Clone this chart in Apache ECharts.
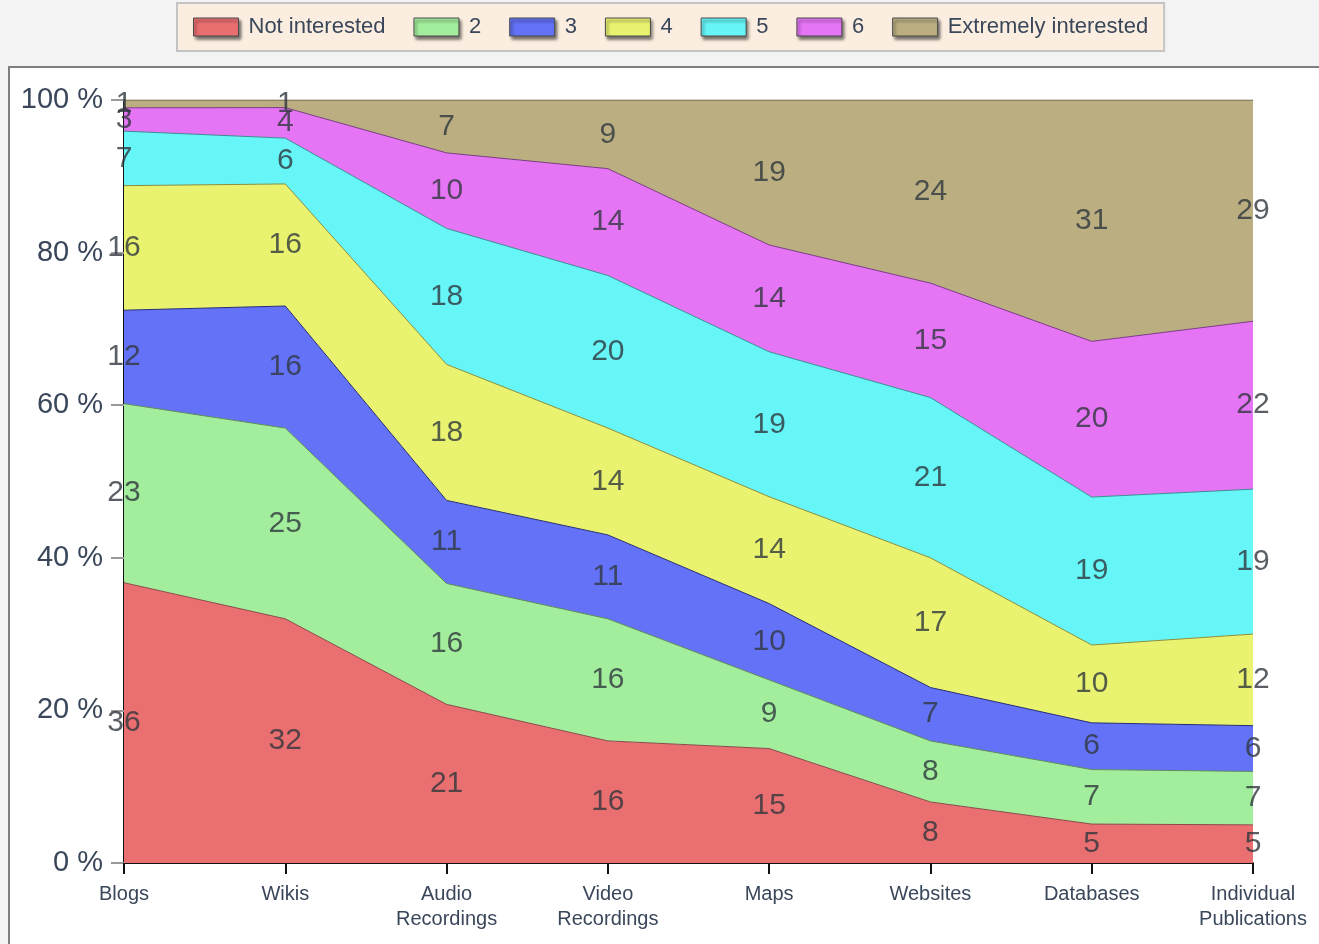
<!DOCTYPE html>
<html>
<head>
<meta charset="utf-8">
<title>Interest by resource type</title>
<script src="https://cdn.jsdelivr.net/npm/echarts@6/dist/echarts.min.js"></script>
<style>
  html, body { margin: 0; padding: 0; background: #f3f3f3; }
  #chart { width: 1319px; height: 944px; }
</style>
</head>
<body>
<div id="chart"></div>
<script>
// Resource types along the x axis
const categories = ['Blogs', 'Wikis', 'Audio\nRecordings', 'Video\nRecordings', 'Maps', 'Websites', 'Databases', 'Individual\nPublications'];

// Response counts per interest level (one array per level)
const notInterested = [36, 32, 21, 16, 15, 8, 5, 5];
const level2        = [23, 25, 16, 16, 9, 8, 7, 7];
const level3        = [12, 16, 11, 11, 10, 7, 6, 6];
const level4        = [16, 16, 18, 14, 14, 17, 10, 12];
const level5        = [7, 6, 18, 20, 19, 21, 19, 19];
const level6        = [3, 4, 10, 14, 14, 15, 20, 22];
const extremely     = [1, 1, 7, 9, 19, 24, 31, 29];

const seriesNames = ['Not interested', '2', '3', '4', '5', '6', 'Extremely interested'];
const yTicks = [0, 20, 40, 60, 80, 100];

const levels = [notInterested, level2, level3, level4, level5, level6, extremely];
const fills  = ['#ea6f70', '#a3ee9d', '#6372f6', '#e9f370', '#66f6f8', '#e675f6', '#bbaf82'];
const edges  = ['#8a4a4a', '#5e8c5a', '#232a78', '#8c8f3a', '#3a8f92', '#7a3a85', '#5e5640'];

// Share of each level within a category, in percent
const totals = categories.map((_, i) => levels.reduce((s, arr) => s + arr[i], 0));
const shares = levels.map(arr => arr.map((v, i) => v / totals[i] * 100));

const textColor = '#3a475a';
const font = 'Liberation Sans';

const areaSeries = seriesNames.map((name, k) => ({
  name,
  type: 'line',
  stack: 'share',
  data: shares[k],
  showSymbol: false,
  symbol: 'none',
  color: fills[k],
  lineStyle: { color: edges[k], width: 1 },
  areaStyle: { color: fills[k], opacity: 1 },
  z: 2
}));

// Count labels placed at the middle of each band
const labelSeries = levels.map((arr, k) => {
  const pts = arr.map((v, i) => {
    let below = 0;
    for (let j = 0; j < k; j++) below += shares[j][i];
    return [i, below + shares[k][i] / 2, v];
  });
  return {
    name: 'count' + k,
    type: 'scatter',
    data: pts,
    symbolSize: 0,
    silent: true,
    z: 10,
    label: {
      show: true,
      position: 'inside',
      formatter: p => String(p.value[2]),
      color: '#30373d',
      fontFamily: font,
      fontSize: 30
    }
  };
});

const chart = echarts.init(document.getElementById('chart'), null, { renderer: 'canvas' });
chart.setOption({
  animation: false,
  backgroundColor: '#f3f3f3',
  graphic: [{
    type: 'rect',
    z: -10,
    shape: { x: 9, y: 67, width: 1400, height: 1000 },
    style: { fill: '#ffffff', stroke: '#7f7f7f', lineWidth: 2 }
  }],
  legend: {
    left: 177,
    top: 3,
    padding: [13, 16, 13, 16],
    backgroundColor: '#fbeee0',
    borderColor: '#c4c4c4',
    borderWidth: 2,
    icon: 'rect',
    itemWidth: 45,
    itemHeight: 18,
    itemGap: 28,
    textStyle: { color: textColor, fontFamily: font, fontSize: 22, padding: [0, 0, 0, 5] },
    data: seriesNames.map((name, k) => ({
      name,
      itemStyle: {
        color: fills[k],
        borderColor: '#4a4a4a',
        borderWidth: 1,
        shadowColor: 'rgba(0,0,0,0.55)',
        shadowBlur: 3,
        shadowOffsetX: 2,
        shadowOffsetY: 3
      }
    }))
  },
  grid: { left: 124, right: 66, top: 100, bottom: 81, containLabel: false },
  xAxis: {
    type: 'category',
    boundaryGap: false,
    data: categories,
    axisLine: { lineStyle: { color: '#111', width: 2 } },
    axisTick: { show: true, alignWithLabel: true, length: 11, lineStyle: { color: '#111', width: 2 } },
    axisLabel: { color: textColor, fontFamily: font, fontSize: 20, lineHeight: 25, margin: 19, interval: 0 },
    splitLine: { show: false }
  },
  yAxis: {
    type: 'value',
    min: yTicks[0],
    max: yTicks[yTicks.length - 1],
    interval: 20,
    axisLine: { show: true, lineStyle: { color: '#111', width: 2 } },
    axisTick: { show: true, length: 13, lineStyle: { color: '#999', width: 2 } },
    axisLabel: { color: textColor, fontFamily: font, fontSize: 29, margin: 21, formatter: v => v + ' %' },
    splitLine: { show: false }
  },
  series: areaSeries.concat(labelSeries)
});
</script>
</body>
</html>
